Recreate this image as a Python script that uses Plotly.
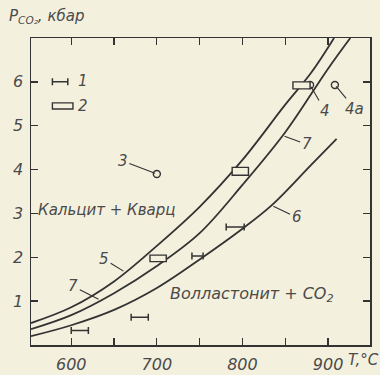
import numpy as np
import plotly.graph_objects as go

# ---- data ----
# curve 5 (upper)
c5_t = [553, 600, 650, 700, 750, 800, 850, 880, 907]
c5_p = [0.5, 0.86, 1.45, 2.26, 3.15, 4.22, 5.48, 6.2, 7.0]
# curve 7 (middle)
c7_t = [553, 600, 650, 700, 750, 800, 850, 900, 926]
c7_p = [0.36, 0.68, 1.18, 1.8, 2.55, 3.65, 4.85, 6.3, 7.0]
# curve 6 (lower)
c6_t = [553, 600, 650, 700, 750, 800, 835, 880, 910]
c6_p = [0.2, 0.45, 0.8, 1.3, 1.95, 2.65, 3.2, 4.1, 4.7]

# symbol 1: temperature intervals
eb_lo = [600, 670, 741, 781]
eb_hi = [620, 690, 754, 802]
eb_p = [0.33, 0.63, 2.03, 2.69]

# symbol 2: rectangles
rect_t0 = [692, 788, 859]
rect_t1 = [711, 807, 879]
rect_p0 = [1.9, 3.87, 5.84]
rect_p1 = [2.05, 4.05, 6.0]

# open circles 3, 4, 4a
circ_t = [700, 879, 908]
circ_p = [3.9, 5.93, 5.93]
circ_lab = ["3", "4", "4a"]

# legend samples
leg_eb_t = [578, 596]
leg_eb_p = 6.0
leg_rect_t = [578, 602]
leg_rect_p = [5.38, 5.52]

x_ticks = [600, 700, 800, 900]
x_ticktext = ["600", "700", "800", "900"]
y_ticks = [1, 2, 3, 4, 5, 6]

BG = "#f4f0de"
INK = "#333333"
TXT = "#4a4a4a"
FONT = "DejaVu Sans"

fig = go.Figure()

for t, p in [(c5_t, c5_p), (c7_t, c7_p), (c6_t, c6_p)]:
    fig.add_trace(go.Scatter(x=t, y=p, mode="lines",
                             line=dict(color=INK, width=1.8, shape="spline", smoothing=1.0),
                             hoverinfo="skip", showlegend=False))

# error-bar style intervals (data + legend sample)
eb_c = [(a + b) / 2 for a, b in zip(eb_lo, eb_hi)] + [(leg_eb_t[0] + leg_eb_t[1]) / 2]
eb_e = [(b - a) / 2 for a, b in zip(eb_lo, eb_hi)] + [(leg_eb_t[1] - leg_eb_t[0]) / 2]
eb_y = eb_p + [leg_eb_p]
fig.add_trace(go.Scatter(x=eb_c, y=eb_y, mode="markers",
                         marker=dict(size=1, color=INK, opacity=0),
                         error_x=dict(type="data", array=eb_e, symmetric=True,
                                      width=3.5, thickness=1.5, color=INK),
                         hoverinfo="skip", showlegend=False))

# rectangles
shapes = []
for t0, t1, p0, p1 in zip(rect_t0 + [leg_rect_t[0]], rect_t1 + [leg_rect_t[1]],
                          rect_p0 + [leg_rect_p[0]], rect_p1 + [leg_rect_p[1]]):
    shapes.append(dict(type="rect", xref="x", yref="y", x0=t0, x1=t1, y0=p0, y1=p1,
                       line=dict(color=INK, width=1.4), fillcolor=BG, layer="above"))

# open circles
fig.add_trace(go.Scatter(x=circ_t, y=circ_p, mode="markers",
                         marker=dict(symbol="circle", size=7, color=BG,
                                     line=dict(color=INK, width=1.4)),
                         hoverinfo="skip", showlegend=False))

ann = []
def lab(text, x, y, ax, ay):
    ann.append(dict(x=x, y=y, xref="x", yref="y", text=text, showarrow=True,
                    arrowhead=0, arrowwidth=1.1, arrowcolor=INK, ax=ax, ay=ay,
                    standoff=2,
                    font=dict(family=FONT, size=15, color=TXT, style="italic")))

lab("5", 663, float(np.interp(663, c5_t, c5_p)), -21, -13)
lab("7", 634, float(np.interp(634, c7_t, c7_p)), -27, -14)
lab("7", 847, float(np.interp(847, c7_t, c7_p)), 24, 9)
lab("6", 834, float(np.interp(834, c6_t, c6_p)), 25, 12)
lab(circ_lab[0], circ_t[0], circ_p[0], -34, -13)
lab(circ_lab[1], circ_t[1], circ_p[1], 15, 26)
lab(circ_lab[2], circ_t[2], circ_p[2], 20, 24)

def txt(text, x, y, xanchor="center", size=15, xref="x", yref="y"):
    ann.append(dict(x=x, y=y, xref=xref, yref=yref, text=text, showarrow=False,
                    xanchor=xanchor, yanchor="middle",
                    font=dict(family=FONT, size=size, color=TXT, style="italic")))

txt("1", 605, 6.02, xanchor="left")
txt("2", 606, 5.45, xanchor="left")
txt("Кальцит + Кварц", 559, 3.08, xanchor="left", size=15)
txt("Волластонит + CO<sub>2</sub>", 811, 1.15, size=16)
txt("P<sub>CO₂</sub>, кбар", -0.07, 1.07, xanchor="left", size=15, xref="paper", yref="paper")
txt("T,°C", 0.93, -0.05, xanchor="left", size=15, xref="paper", yref="paper")

tick_style = dict(ticks="inside", ticklen=7, tickwidth=1.3, tickcolor=INK)
axis_common = dict(showgrid=False, zeroline=False, showline=True, linecolor=INK,
                   linewidth=1.5, mirror="allticks", automargin=False,
                   tickfont=dict(family=FONT, size=16, color=TXT, style="italic"),
                   **tick_style)

fig.update_layout(
    width=380, height=375,
    margin=dict(l=31, r=10, t=38, b=30, autoexpand=False),
    paper_bgcolor=BG, plot_bgcolor=BG,
    xaxis=dict(range=[553, 949], tickvals=x_ticks, ticktext=x_ticktext,
               ticklabelstandoff=4,
               minor=dict(tick0=600, dtick=50, showgrid=False, **tick_style),
               **axis_common),
    yaxis=dict(range=[0, 7], tickvals=y_ticks, ticklabelstandoff=3, **axis_common),
    shapes=shapes, annotations=ann, showlegend=False,
)

fig.write_html("out.html", config={"staticPlot": True, "displayModeBar": False},
               post_script="document.body.style.margin='0px';"
                           "document.body.style.background='" + BG + "';")
